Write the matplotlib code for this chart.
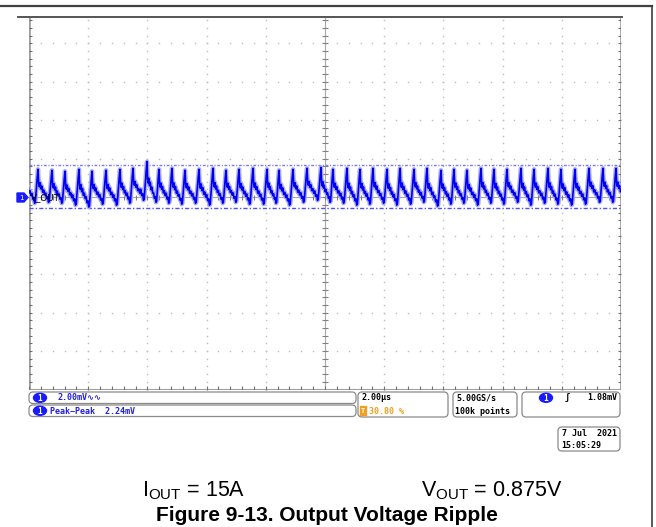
import numpy as np
import matplotlib
matplotlib.use("Agg")
import matplotlib.pyplot as plt
from matplotlib.patches import FancyBboxPatch, Ellipse, Polygon, Rectangle

plt.rcParams['font.family'] = ['Liberation Sans', 'DejaVu Sans']
plt.rcParams['mathtext.default'] = 'regular'

# scope settings (2 us/div, 2 mV/div)
t_div = 2.0
v_div = 2.0
t_span = 20.0

# peak times of the ripple (us)
peak_t = [-0.150, 0.304, 0.777, 1.216, 1.689, 2.128, 2.601, 3.074, 3.514, 3.986,
          4.392, 4.831, 5.270, 5.743, 6.216, 6.655, 7.095, 7.568, 8.041, 8.446,
          8.919, 9.392, 9.865, 10.270, 10.743, 11.182, 11.622, 12.095, 12.534, 13.007,
          13.446, 13.919, 14.358, 14.797, 15.270, 15.709, 16.149, 16.622, 17.061, 17.534,
          17.973, 18.446, 18.919, 19.392, 19.831, 20.280]
# peak levels (mV)
peak_v = [1.45, 1.45, 1.40, 1.35, 1.45, 1.35, 1.40, 1.45, 1.50, 1.85,
          1.45, 1.50, 1.40, 1.45, 1.50, 1.40, 1.45, 1.50, 1.45, 1.40,
          1.45, 1.50, 1.55, 1.45, 1.50, 1.45, 1.50, 1.45, 1.50, 1.45,
          1.50, 1.40, 1.45, 1.40, 1.50, 1.45, 1.45, 1.50, 1.45, 1.50,
          1.45, 1.45, 1.50, 1.50, 1.50, 1.45]
# minimum just before the next rise (mV)
trough_v = [-0.35, -0.30, -0.35, -0.45, -0.55, -0.40, -0.45, -0.35, -0.20, -0.30,
            -0.35, -0.40, -0.35, -0.45, -0.35, -0.30, -0.40, -0.40, -0.35, -0.45,
            -0.30, -0.20, -0.30, -0.35, -0.45, -0.40, -0.35, -0.45, -0.40, -0.30,
            -0.50, -0.40, -0.35, -0.45, -0.35, -0.40, -0.30, -0.45, -0.35, -0.40,
            -0.45, -0.40, -0.30, -0.30, -0.30, -0.30]
# shape of one ripple period, peak to next peak (0 = trough, 1 = peak)
shape_phase = [0.00, 0.05, 0.10, 0.15, 0.21, 0.27, 0.34, 0.41, 0.48, 0.55,
               0.62, 0.69, 0.75, 0.80, 0.87, 0.94, 1.00]
shape_level = [1.00, 0.58, 0.48, 0.60, 0.42, 0.50, 0.32, 0.38, 0.24, 0.30,
               0.14, 0.19, 0.02, 0.05, 0.40, 0.75, 1.00]

cursor_high = 1.67
cursor_low = -0.57

# build the trace
tt, vv = [], []
for k in range(len(peak_t) - 1):
    for ph, lv in zip(shape_phase[:-1], shape_level[:-1]):
        top = peak_v[k] if ph < 0.5 else peak_v[k + 1]
        tt.append(peak_t[k] + ph * (peak_t[k + 1] - peak_t[k]))
        vv.append(trough_v[k] + lv * (top - trough_v[k]))
tt.append(peak_t[-1])
vv.append(peak_v[-1])

W, H = 656, 527
fig = plt.figure(figsize=(W / 100, H / 100), dpi=100)
fig.patch.set_facecolor('white')

gx0, gx1, gy0, gy1 = 29, 621, 17, 389.5
ax = fig.add_axes([gx0 / W, 1 - gy1 / H, (gx1 - gx0) / W, (gy1 - gy0) / H])
ax.set_xlim(0, t_span)
ax.set_ylim(-5 * v_div, 4.685 * v_div)
ax.axis('off')

# graticule dots
dot = '#bcbcbc'
for x in np.arange(t_div, t_span, t_div):
    if abs(x - t_span / 2) > 1e-6:
        ys = np.arange(-5 * v_div, 5 * v_div + 0.01, v_div / 5)
        ax.plot(np.full_like(ys, x), ys, 's', ms=1.0, color=dot, mec='none')
for y in np.arange(-4 * v_div, 5 * v_div, v_div):
    if abs(y) > 1e-6:
        xs = np.arange(0, t_span + 0.01, t_div / 5)
        ax.plot(xs, np.full_like(xs, y), 's', ms=1.0, color=dot, mec='none')

# centre axes with minor ticks
ax.axvline(t_span / 2, color='#a8a8a8', lw=0.8)
ax.axhline(0, color='#a8a8a8', lw=0.8)
yt = np.arange(-5 * v_div, 5 * v_div + 0.01, v_div / 5)
xt = np.arange(0, t_span + 0.01, t_div / 5)
ax.hlines(yt, t_span / 2 - 0.09, t_span / 2 + 0.09, color='#808080', lw=0.8)
ax.vlines(xt, -0.12, 0.12, color='#808080', lw=0.8)

# edges with ticks
ax.axvline(0, color='#a0a0a0', lw=2)
ax.axvline(t_span, color='#a0a0a0', lw=2)
ax.axhline(-5 * v_div, color='#a0a0a0', lw=1.5)
ax.hlines(yt, 0, 0.1, color='#707070', lw=0.8)
ax.hlines(yt, t_span - 0.1, t_span, color='#707070', lw=0.8)
ax.vlines(xt, -5 * v_div, -5 * v_div + 0.16, color='#707070', lw=0.8)

# peak-peak cursors
ax.axhline(cursor_high, color='#7878ff', lw=1.0, ls=(0, (2, 1.2, 0.8, 1.2)))
ax.axhline(cursor_low, color='#5050ff', lw=1.0, ls=(0, (3, 1.5, 1, 1.5)))

# trace
ax.plot(tt, vv, color='#a8a8ff', lw=3.2, solid_joinstyle='round', zorder=4)
ax.plot(tt, vv, color='#0000f0', lw=1.2, zorder=5)

# overlay in pixel coordinates
ov = fig.add_axes([0, 0, 1, 1], facecolor='none')
ov.set_xlim(0, W)
ov.set_ylim(H, 0)
ov.axis('off')

ov.plot([0, 652], [6, 6], color='#404040', lw=1.6)
ov.plot([651.5, 651.5], [6, H], color='#404040', lw=1.2)
ov.plot([18, 622], [17, 17], color='#555555', lw=1.4)

# channel marker and label
ov.add_patch(Polygon([[17, 193], [24, 193], [28, 197.5], [24, 202], [17, 202]],
                     closed=True, color='#1a1aff'))
ov.text(21, 197.8, '1', color='white', fontsize=5, ha='center', va='center',
        family='DejaVu Sans')
ov.text(31, 197.5, 'V_OUT', color='black', fontsize=6.3, ha='left', va='center',
        family='DejaVu Sans')

mono = ['DejaVu Sans Mono', 'DejaVu Sans']
fs = 6.0


def box(x0, y0, x1, y1):
    ov.add_patch(FancyBboxPatch((x0, y0), x1 - x0, y1 - y0,
                                boxstyle='round,pad=0,rounding_size=4',
                                fc='white', ec='#8a8a8a', lw=0.9))


def ch1(x, y):
    ov.add_patch(Ellipse((x, y), 13, 9, color='#1a1aff'))
    ov.text(x, y + 0.3, '1', color='white', fontsize=5.5, ha='center', va='center',
            family=mono, weight='bold')


box(29, 392, 356, 403.5)
box(29, 405, 356, 416.5)
box(358, 392, 448, 417)
box(453, 392, 517, 417)
box(522, 392, 620, 417)
box(558, 427, 620, 451)

ch1(40, 397.8)
ov.text(57, 398, '2.00mV\u223f\u223f', color='#2020e0', fontsize=fs, va='center',
        family=mono, weight='bold')
ch1(40, 410.8)
ov.text(50, 411, 'Peak\u2212Peak  2.24mV', color='#2020e0', fontsize=fs, va='center',
        family=mono, weight='bold')

ov.text(361, 398, '2.00\u00b5s', color='black', fontsize=fs, va='center', family=mono,
        weight='bold')
ov.add_patch(Rectangle((360, 406), 6, 9, color='#f0a020'))
ov.text(363, 410.8, 'T', color='white', fontsize=5, ha='center', va='center', family=mono,
        weight='bold')
ov.text(369, 411, '30.80 %', color='#f0a020', fontsize=fs, va='center', family=mono,
        weight='bold')

ov.text(456, 398, '5.00GS/s', color='black', fontsize=fs, va='center', family=mono,
        weight='bold')
ov.text(455, 411, '100k points', color='black', fontsize=fs, va='center', family=mono,
        weight='bold')

ch1(546, 397.8)
ov.text(565, 398, '\u0283', color='black', fontsize=fs, va='center', family=mono,
        weight='bold')
ov.text(617, 398, '1.08mV', color='black', fontsize=fs, ha='right', va='center',
        family=mono, weight='bold')

ov.text(617, 433, '7 Jul  2021', color='black', fontsize=fs, ha='right', va='center',
        family=mono, weight='bold')
ov.text(561, 445, '15:05:29', color='black', fontsize=fs, va='center', family=mono,
        weight='bold')

# captions
ov.text(194, 496, 'I$_{OUT}$ = 15A', fontsize=15.5, ha='center', va='baseline')
ov.text(492, 496, 'V$_{OUT}$ = 0.875V', fontsize=15.5, ha='center', va='baseline')
ov.text(327, 506, 'Figure 9-13. Output Voltage Ripple', fontsize=15, weight='bold',
        ha='center', va='top')

fig.savefig('out.png', dpi=100)
